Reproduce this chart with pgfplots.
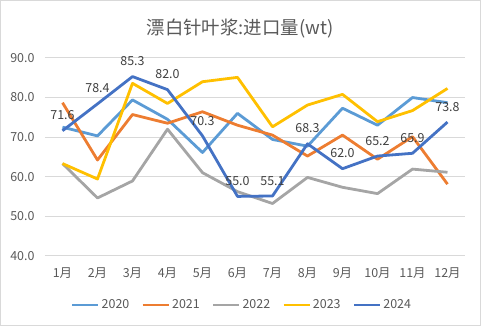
\documentclass[border=0pt]{standalone}
\usepackage{pgfplots}
\pgfplotsset{compat=1.18}
\usepackage{fontspec}
\setmainfont{Noto Sans CJK SC}
\definecolor{c20}{HTML}{5B9BD5}
\definecolor{c21}{HTML}{ED7D31}
\definecolor{c22}{HTML}{A5A5A5}
\definecolor{c23}{HTML}{FFC000}
\definecolor{c24}{HTML}{4472C4}
\definecolor{txt}{HTML}{595959}
\definecolor{grd}{HTML}{D9D9D9}
\begin{document}
\begin{tikzpicture}
\useasboundingbox (0bp,0bp) rectangle (481bp,326bp);
\draw[grd, line width=1bp] (0.5bp,0.5bp) rectangle (480.5bp,325.5bp);
\node[text=txt, font=\fontsize{18.5}{20}\selectfont] at (240bp,297bp) {漂白针叶浆:进口量(wt)};
\begin{axis}[
  at={(45bp,70.3bp)}, anchor=south west,
  scale only axis, width=420bp, height=197.7bp,
  xmin=0.5, xmax=12.5, ymin=40, ymax=90,
  xtick={1,...,12},
  xticklabels={1月,2月,3月,4月,5月,6月,7月,8月,9月,10月,11月,12月},
  ytick={40,50,60,70,80,90},
  yticklabel style={/pgf/number format/fixed, /pgf/number format/fixed zerofill, /pgf/number format/precision=1, xshift=-7bp},
  /pgf/number format/assume math mode=true,
  tick label style={text=txt, font=\fontsize{12.5}{14}\selectfont},
  xticklabel style={yshift=-8bp},
  axis line style={draw=none},
  major tick length=0pt,
  ymajorgrids, grid style={grd, line width=1bp},
  clip=false,
  legend columns=5,
  legend style={at={(0.469,-0.249)}, anchor=center, draw=none, fill=none,
    font=\fontsize{12.5}{14}\selectfont, text=txt,
    /tikz/every even column/.append style={column sep=10bp}},
  legend image code/.code={\draw[#1, line width=2.8bp] (0bp,0bp) -- (26bp,0bp);},
  every axis plot/.append style={line width=2.8bp, line join=round, mark=none},
]
\addplot[c20] coordinates {(1,72.5)(2,70.3)(3,79.4)(4,74.5)(5,66.1)(6,76.0)(7,69.4)(8,67.7)(9,77.3)(10,73.0)(11,80.0)(12,78.7)};
\addlegendentry{2020}
\addplot[c21] coordinates {(1,78.7)(2,64.2)(3,75.7)(4,73.5)(5,76.4)(6,73.0)(7,70.5)(8,65.2)(9,70.5)(10,64.4)(11,70.1)(12,58.1)};
\addlegendentry{2021}
\addplot[c22] coordinates {(1,63.3)(2,54.6)(3,58.9)(4,72.0)(5,61.0)(6,56.2)(7,53.2)(8,59.8)(9,57.3)(10,55.7)(11,61.9)(12,61.1)};
\addlegendentry{2022}
\addplot[c23] coordinates {(1,63.3)(2,59.4)(3,83.6)(4,78.5)(5,84.0)(6,85.1)(7,72.6)(8,78.1)(9,80.8)(10,73.9)(11,76.7)(12,82.3)};
\addlegendentry{2023}
\addplot[c24, nodes near coords={\pgfmathprintnumber[fixed,fixed zerofill,precision=1]{\pgfplotspointmeta}},
  every node near coord/.append style={text=black!75, font=\fontsize{12.5}{14}\selectfont, anchor=south, yshift=6bp}]
  coordinates {(1,71.6)(2,78.4)(3,85.3)(4,82.0)(5,70.3)(6,55.0)(7,55.1)(8,68.3)(9,62.0)(10,65.2)(11,65.9)(12,73.8)};
\addlegendentry{2024}
\end{axis}
\end{tikzpicture}
\end{document}
